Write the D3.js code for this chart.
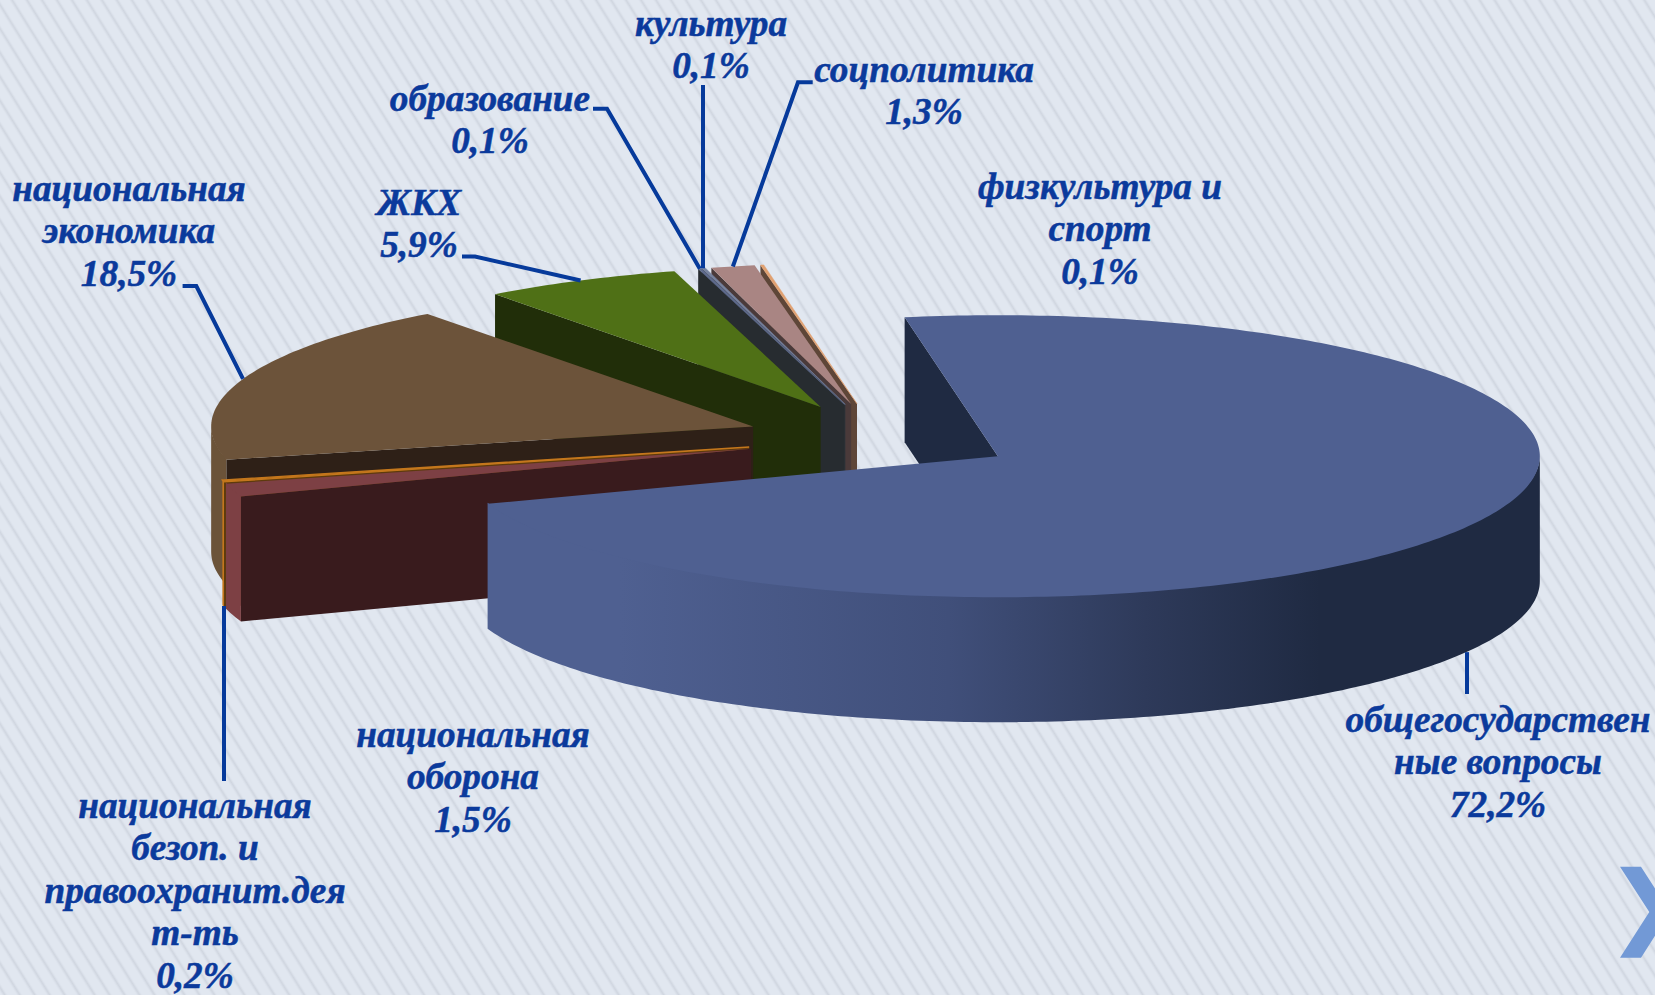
<!DOCTYPE html>
<html>
<head>
<meta charset="utf-8">
<script src="https://d3js.org/d3.v7.min.js"></script>
<style>
  html, body { margin: 0; padding: 0; background: #e1e7f0; overflow: hidden; }
  text { font-family: "Liberation Serif", serif; font-weight: bold; font-style: italic; font-size: 37.3px; fill: #0b3a9c; stroke: #0b3a9c; stroke-width: 0.5px; }
</style>
</head>
<body>
<div id="chart"></div>
<script>
// Slices in drawing order of the original (clockwise from the big one)
var categories = ["общегосударственные вопросы", "национальная оборона", "национальная безоп. и правоохранит.деят-ть",
    "национальная экономика", "ЖКХ", "образование", "культура", "соцполитика", "физкультура и спорт"];
var shares = [72.2, 1.5, 0.2, 18.5, 5.9, 0.1, 0.1, 1.3, 0.1];

// Label text as it wraps in the picture
var labelLines = [
    ["общегосударствен", "ные вопросы"],
    ["национальная", "оборона"],
    ["национальная", "безоп. и", "правоохранит.дея", "т-ть"],
    ["национальная", "экономика"],
    ["ЖКХ"],
    ["образование"],
    ["культура"],
    ["соцполитика"],
    ["физкультура и", "спорт"]
];

var topColors = ["#4f6091", "#7d4044", "#c4771c", "#6c533a", "#4f7016", "#5f6b8c", "#76829f", "#a98583", "#e0a070"];
var cutColors = ["#1f2a42", "#391b1d", "#5e3a0d", "#2e2017", "#212e09", "#272c30", "#2f343a", "#4a3a3a", "#5e4638"];
var rimColors = ["url(#rimGradient)", "#7d4044", "#c4771c", "#6b5339", "#4f7016", "#5f6b8c", "#76829f", "#a98583", "#e0a070"];

var width = 1655,
    height = 995;

// Pie geometry: centre, radii of the tilted ellipse, wall height, explosion
var cx = 880.7,
    cy = 438.5,
    rx = 542,
    ry = 141,
    depth = 125,
    explode = 0.25;

var x = d3.scaleLinear().domain([0, 1]).range([cx, cx + rx]);
var y = d3.scaleLinear().domain([0, 1]).range([cy, cy + ry]);

var firstAngle = -9.9 * Math.PI / 180;

var pie = d3.pie()
    .sort(null)
    .value(function(d) { return d; })
    .startAngle(firstAngle)
    .endAngle(firstAngle + 2 * Math.PI);

var slices = pie(shares).map(function(d, i) {
    var mid = (d.startAngle + d.endAngle) / 2;
    return {
        index: i,
        start: d.startAngle,
        end: d.endAngle,
        mid: mid,
        ox: explode * Math.sin(mid),
        oy: -explode * Math.cos(mid)
    };
});

// Point of a slice at a given angle and radius fraction, dz pixels down the wall
function point(s, angle, r, dz) {
    return [x(s.ox + r * Math.sin(angle)), y(s.oy - r * Math.cos(angle)) + (dz || 0)];
}

function arcPoints(s, a0, a1, dz) {
    var n = Math.max(2, Math.ceil((a1 - a0) * 60));
    return d3.range(n + 1).map(function(k) {
        return point(s, a0 + (a1 - a0) * k / n, 1, dz);
    });
}

var line = d3.line();

var svg = d3.select("#chart").append("svg")
    .attr("width", width)
    .attr("height", height)
    .style("display", "block");

var defs = svg.append("defs");

// Background stripes
var stripe = defs.append("linearGradient").attr("id", "stripeGradient");
stripe.selectAll("stop")
    .data([[0, "#e1e7f0"], [0.62, "#e1e7f0"], [0.8, "#d0d6e0"], [0.98, "#e1e7f0"], [1, "#e1e7f0"]])
    .enter().append("stop")
    .attr("offset", function(d) { return d[0]; })
    .attr("stop-color", function(d) { return d[1]; });

var pattern = defs.append("pattern")
    .attr("id", "stripes")
    .attr("patternUnits", "userSpaceOnUse")
    .attr("width", 12.7)
    .attr("height", 40)
    .attr("patternTransform", "rotate(-32)");
pattern.append("rect")
    .attr("width", 12.7)
    .attr("height", 40)
    .attr("fill", "url(#stripeGradient)");

// Shading of the big slice's outer wall
var rim = defs.append("linearGradient")
    .attr("id", "rimGradient")
    .attr("gradientUnits", "userSpaceOnUse")
    .attr("x1", 620).attr("x2", 1320)
    .attr("y1", 0).attr("y2", 0);
rim.selectAll("stop")
    .data([[0, "#4f6091"], [0.47, "#404f7a"], [0.75, "#2e3a5a"], [1, "#1f2a42"]])
    .enter().append("stop")
    .attr("offset", function(d) { return d[0]; })
    .attr("stop-color", function(d) { return d[1]; });

svg.append("rect")
    .attr("width", width)
    .attr("height", height)
    .attr("fill", "url(#stripes)");

// Back slices first, the big slice last
var order = slices.slice().reverse();

order.forEach(function(s) {
    var g = svg.append("g").attr("class", "slice");

    // Cut face at the start edge shows when it turns towards the viewer
    if (Math.sin(s.start) < 0) {
        g.append("path")
            .attr("d", line([point(s, s.start, 1), point(s, s.start, 0), point(s, s.start, 0, depth), point(s, s.start, 1, depth)]) + "Z")
            .attr("fill", cutColors[s.index]);
    }

    // Outer wall, front half of the ellipse only; starts 1px up so no seam shows under the top face
    var a0 = Math.max(s.start, Math.PI / 2),
        a1 = Math.min(s.end, 3 * Math.PI / 2);
    if (a0 < a1) {
        var wall = arcPoints(s, a0, a1, -1).concat(arcPoints(s, a0, a1, depth).reverse());
        g.append("path")
            .attr("d", line(wall) + "Z")
            .attr("fill", rimColors[s.index]);
    }

    // Top face; the thinnest slices get a hairline so they stay visible
    var top = [point(s, 0, 0)].concat(arcPoints(s, s.start, s.end, 0));
    g.append("path")
        .attr("d", line(top) + "Z")
        .attr("fill", topColors[s.index])
        .attr("stroke", shares[s.index] < 1 ? topColors[s.index] : "none")
        .attr("stroke-width", s.index === 2 ? 1.4 : 0.5);
});

// Leader lines: horizontal stub near the label, then out to the slice
var leaders = [
    { slice: 0, path: [[1467, 694]], dz: depth, keepX: true },
    { slice: 2, path: [[224, 781]], dz: depth, keepX: true },
    { slice: 3, path: [[182.6, 286], [196.3, 286]] },
    { slice: 4, path: [[462, 256.5], [475, 256.5]] },
    { slice: 5, path: [[593, 108.7], [607, 108.7]] },
    { slice: 6, path: [[703, 85]], keepX: true },
    { slice: 7, path: [[812.7, 82.3], [798, 82.3]] }
];

leaders.forEach(function(l) {
    var s = slices[l.slice];
    var end = point(s, s.mid, 1, l.dz);
    if (l.keepX) end[0] = l.path[0][0];
    svg.append("path")
        .attr("d", line(l.path.concat([end])))
        .attr("fill", "none")
        .attr("stroke", "#063a9b")
        .attr("stroke-width", 4);
});

// Labels: centre x and the first line's y, one entry per slice
var labelPlaces = [[1498, 732], [473, 747], [195, 818], [129, 201], [419, 215], [490, 111], [711, 36], [924, 82], [1100, 199]];
var lineGap = 42.4;

function percent(v) {
    return v.toFixed(1).replace(".", ",") + "%";
}

slices.forEach(function(s) {
    var rows = labelLines[s.index].concat([percent(shares[s.index])]);
    svg.append("g")
        .attr("class", "label")
        .selectAll("text")
        .data(rows)
        .enter().append("text")
        .attr("x", labelPlaces[s.index][0])
        .attr("y", function(d, i) { return labelPlaces[s.index][1] + i * lineGap; })
        .attr("text-anchor", "middle")
        .text(function(d) { return d; });
});

// Next-slide chevron in the corner
svg.append("path")
    .attr("d", "M1620,866.7L1641,866.7L1670,912L1641,957.7L1620,957.7L1649.3,912Z")
    .attr("fill", "#7299d6");
</script>
</body>
</html>
